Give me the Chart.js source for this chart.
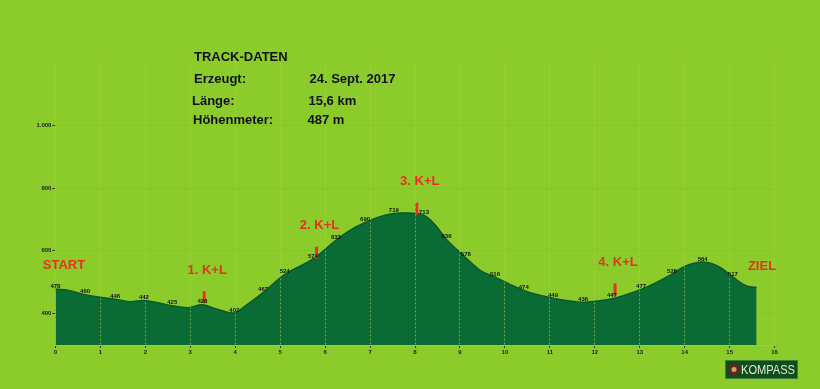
<!DOCTYPE html>
<html>
<head>
<meta charset="utf-8">
<script src="https://cdn.jsdelivr.net/npm/chart.js@4.4.1/dist/chart.umd.min.js"></script>
<style>
  html, body { margin: 0; padding: 0; background: #8bcc2b; }
  #wrap { width: 820px; height: 389px; position: relative; }
</style>
</head>
<body>
<div id="wrap"><canvas id="c"></canvas></div>
<script>
// ---- data ----
const PROFILE_KM   = [0, 0.30, 0.66, 1.00, 1.33, 1.65, 1.97, 2.30, 2.60, 2.95, 3.27, 3.60, 3.98, 4.22, 4.62, 5.10, 5.73, 6.24, 6.55, 6.89, 7.20, 7.53, 7.85, 8.20, 8.45, 8.70, 9.13, 9.45, 9.78, 10.10, 10.42, 10.75, 11.07, 11.40, 11.74, 12.05, 12.38, 12.70, 13.03, 13.35, 13.72, 14.05, 14.40, 14.75, 15.07, 15.35, 15.60];
const PROFILE_ELEV = [478, 474, 460, 452, 446, 438, 442, 434, 425, 419, 428, 414, 402, 424, 467, 524, 574, 633, 665, 690, 708, 719, 720, 713, 682, 636, 578, 538, 516, 494, 474, 459, 449, 441, 436, 440, 447, 460, 477, 498, 526, 553, 564, 550, 517, 490, 483];

const LABEL_KM   = [0, 0.66, 1.33, 1.97, 2.60, 3.27, 3.98, 4.62, 5.10, 5.73, 6.24, 6.89, 7.53, 8.20, 8.70, 9.13, 9.78, 10.42, 11.07, 11.74, 12.38, 13.03, 13.72, 14.40, 15.07];
const LABEL_ELEV = [478, 460, 446, 442, 425, 428, 402, 467, 524, 574, 633, 690, 719, 713, 636, 578, 516, 474, 449, 436, 447, 477, 526, 564, 517];

const STOP_NAMES = ["1. K+L", "2. K+L", "3. K+L", "4. K+L"];
const STOP_KM    = [3.31, 5.81, 8.04, 12.45];
const STOP_ELEV  = [452, 594, 734, 477];

const X_TICKS = [0, 1, 2, 3, 4, 5, 6, 7, 8, 9, 10, 11, 12, 13, 14, 15, 16];
const Y_TICKS = [400, 600, 800, 1000];

const INFO_KEYS   = ["Erzeugt:", "Länge:", "Höhenmeter:"];
const INFO_VALUES = ["24. Sept. 2017", "15,6 km", "487 m"];

// ---- helpers ----
const fmt = v => String(v).replace(/\B(?=(\d{3})+(?!\d))/g, '.');
const RED = '#e8321e';

const decor = {
  id: 'decor',
  beforeDraw(chart) {
    const ctx = chart.ctx;
    ctx.save();
    ctx.fillStyle = '#8bcc2b';
    ctx.fillRect(0, 0, chart.width, chart.height);
    ctx.restore();
  },
  afterDraw(chart) {
    const ctx = chart.ctx;
    ctx.save();
    // elevation labels
    const lm = chart.getDatasetMeta(1);
    ctx.font = 'bold 6px "Liberation Sans", Arial, sans-serif';
    ctx.fillStyle = '#111';
    ctx.textAlign = 'center';
    ctx.textBaseline = 'middle';
    lm.data.forEach((el, i) => {
      ctx.fillText(String(LABEL_ELEV[i]), el.x, el.y - 3);
    });
    // stop names
    const sm = chart.getDatasetMeta(2);
    ctx.font = 'bold 13px "Liberation Sans", Arial, sans-serif';
    ctx.fillStyle = RED;
    sm.data.forEach((el, i) => {
      ctx.fillText(STOP_NAMES[i], el.x + 3, el.y - 27);
    });
    // START / ZIEL
    ctx.fillText('START', 64, 265);
    ctx.fillText('ZIEL', 762, 266);
    // info block
    ctx.fillStyle = '#111';
    ctx.textAlign = 'left';
    ctx.font = 'bold 13px "Liberation Sans", Arial, sans-serif';
    ctx.fillText('TRACK-DATEN', 194, 57.5);
    const ys = [79.5, 101, 120.5];
    const kx = [194, 192, 193];
    const vx = [309.5, 308.5, 307.5];
    INFO_KEYS.forEach((k, i) => {
      ctx.fillText(k, kx[i], ys[i]);
      ctx.fillText(INFO_VALUES[i], vx[i], ys[i]);
    });
    // KOMPASS badge
    ctx.fillStyle = '#0f4d1d';
    ctx.fillRect(725.5, 360.5, 72, 18);
    ctx.strokeStyle = '#3f7f33';
    ctx.lineWidth = 1;
    ctx.strokeRect(725.5, 360.5, 72, 18);
    ctx.beginPath();
    ctx.arc(734, 369.5, 5.5, 0, Math.PI * 2);
    ctx.fillStyle = '#6e2317';
    ctx.fill();
    ctx.beginPath();
    ctx.arc(734, 369.5, 2.5, 0, Math.PI * 2);
    ctx.fillStyle = '#c9a46a';
    ctx.fill();
    ctx.fillStyle = '#e2ead6';
    ctx.font = '13px "Liberation Sans", Arial, sans-serif';
    ctx.textBaseline = 'middle';
    const w = ctx.measureText('KOMPASS').width;
    ctx.translate(741, 370);
    ctx.scale(54 / w, 1);
    ctx.fillText('KOMPASS', 0, 0);
    ctx.restore();
  }
};

const tickFont = { family: '"Liberation Sans", Arial, sans-serif', size: 6, weight: 'bold' };

new Chart(document.getElementById('c'), {
  type: 'line',
  data: {
    datasets: [
      {
        data: PROFILE_KM.map((x, i) => ({ x, y: PROFILE_ELEV[i] })),
        borderColor: '#0a5a2b',
        borderWidth: 1.5,
        backgroundColor: '#0b6b35',
        fill: 'start',
        tension: 0.4,
        pointRadius: 0,
        order: 3
      },
      {
        type: 'scatter',
        data: LABEL_KM.map((x, i) => ({ x, y: LABEL_ELEV[i] })),
        pointRadius: 0,
        showLine: false,
        order: 2
      },
      {
        type: 'scatter',
        data: STOP_KM.map((x, i) => ({ x, y: STOP_ELEV[i] })),
        pointStyle: 'line',
        rotation: 90,
        pointRadius: 6,
        borderColor: RED,
        borderWidth: 3,
        showLine: false,
        order: 1
      }
    ]
  },
  options: {
    responsive: true,
    maintainAspectRatio: false,
    animation: false,
    layout: { padding: { left: 0, top: 62.4, right: 45.4, bottom: 0 } },
    plugins: { legend: { display: false }, tooltip: { enabled: false }, title: { display: false } },
    scales: {
      x: {
        type: 'linear',
        min: 0, max: 16,
        afterBuildTicks: s => { s.ticks = X_TICKS.map(v => ({ value: v })); },
        afterFit: s => { s.height = 44; },
        ticks: { font: tickFont, color: '#222', padding: 1, maxRotation: 0, autoSkip: false },
        grid: {
          z: 1,
          color: 'rgba(175,210,80,0.6)',
          lineWidth: 1,
          tickLength: 3,
          tickColor: '#333',
          drawOnChartArea: true
        },
        border: { display: true, color: 'rgba(160,205,70,0.9)', width: 1, z: 1, dash: [2, 2] }
      },
      y: {
        type: 'linear',
        min: 300, max: 1200,
        afterBuildTicks: s => { s.ticks = Y_TICKS.map(v => ({ value: v })); },
        afterFit: s => { s.width = 55.4; },
        ticks: { font: tickFont, color: '#222', padding: 1, callback: v => fmt(v) },
        grid: { color: 'rgba(110,175,30,0.25)', tickLength: 3, tickColor: '#333' },
        border: { display: false }
      }
    }
  },
  plugins: [decor]
});
</script>
</body>
</html>
